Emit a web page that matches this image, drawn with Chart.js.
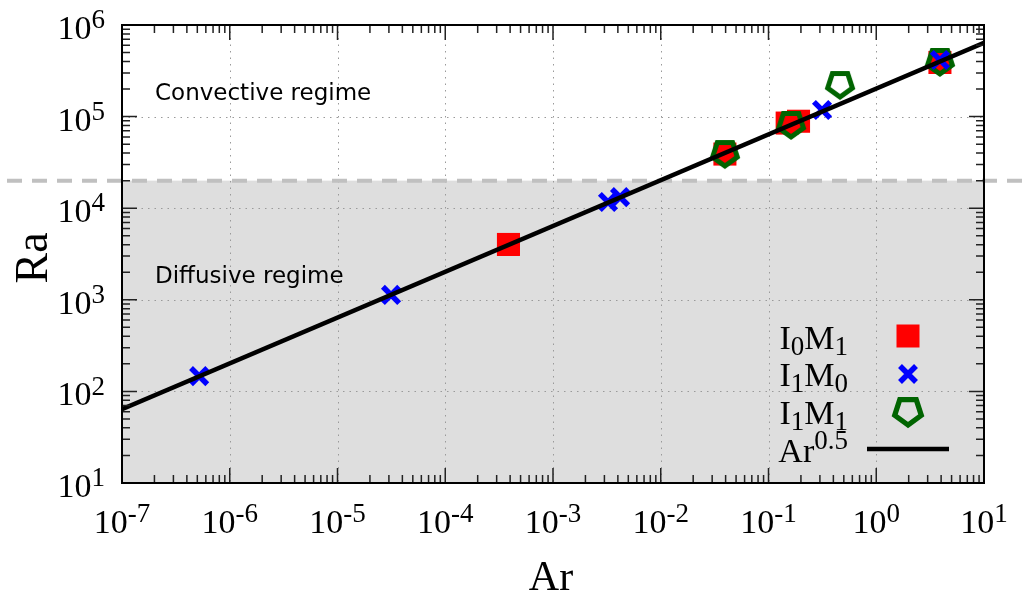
<!DOCTYPE html>
<html>
<head>
<meta charset="utf-8">
<script src="https://cdn.jsdelivr.net/npm/chart.js@4.4.1/dist/chart.umd.min.js"></script>
<style>
  html, body { margin: 0; padding: 0; background: #fff; }
  #wrap { width: 1031px; height: 596px; }
</style>
</head>
<body>
<div id="wrap"><canvas id="chart" width="1031" height="596"></canvas></div>
<script>
// ── Data ───────────────────────────────────────────────────────────

const i0m1Ar = [3.86e-4, 0.0394, 0.149, 0.19, 3.9];
const i0m1Ra = [4020, 3.9e4, 8.5e4, 8.9e4, 3.9e5];

const i1m0Ar = [5.2e-7, 3.14e-5, 3.24e-3, 4.19e-3, 0.314, 3.9];
const i1m0Ra = [147, 1130, 1.17e4, 1.32e4, 1.18e5, 4.15e5];

const i1m1Ar = [0.0394, 0.162, 0.461, 3.9];
const i1m1Ra = [3.9e4, 8.1e4, 2.21e5, 3.95e5];

// Ar^0.5 fit line, read at the two plot edges
const fitAr = [1e-7, 10];
const fitRa = [64, 6.4e5];

const xTicks = [1e-7, 1e-6, 1e-5, 1e-4, 1e-3, 1e-2, 1e-1, 1, 10];
const xTickLabels = ["10^{-7}", "10^{-6}", "10^{-5}", "10^{-4}", "10^{-3}", "10^{-2}", "10^{-1}", "10^{0}", "10^{1}"];
const yTicks = [10, 100, 1e3, 1e4, 1e5, 1e6];
const yTickLabels = ["10^{1}", "10^{2}", "10^{3}", "10^{4}", "10^{5}", "10^{6}"];

const regimeBoundary = 2e4;
const legendLabels = ["I_0M_1", "I_1M_0", "I_1M_1", "Ar^{0.5}"];

const SERIF = '"Liberation Serif", "Times New Roman", serif';
const SANS = '"DejaVu Sans", sans-serif';
const GREEN = "#006400";

function pts(xs, ys) {
  return xs.map(function (x, i) { return { x: x, y: ys[i] }; });
}

// ── Pentagon marker (flat top, vertex down) ───────────────────────

function makePentagon(R, lw) {
  const c = document.createElement("canvas");
  c.width = 40; c.height = 40;
  const g = c.getContext("2d");
  g.beginPath();
  for (let k = 0; k < 5; k++) {
    const a = Math.PI / 2 + k * 2 * Math.PI / 5;
    const px = 20 + R * Math.cos(a), py = 19 + R * Math.sin(a);
    if (k === 0) g.moveTo(px, py); else g.lineTo(px, py);
  }
  g.closePath();
  g.lineWidth = lw;
  g.lineJoin = "miter";
  g.strokeStyle = GREEN;
  g.stroke();
  return c;
}
const pentagon = makePentagon(13, 5);
const pentagonBig = makePentagon(14, 5.2);

// ── Rich text: "_x" subscript, "^{..}" superscript ────────────────

function parseRich(str) {
  const out = [];
  let i = 0, buf = "";
  while (i < str.length) {
    const ch = str[i];
    if (ch === "_" || ch === "^") {
      if (buf) { out.push({ t: buf, m: "n" }); buf = ""; }
      let t;
      if (str[i + 1] === "{") {
        const end = str.indexOf("}", i);
        t = str.slice(i + 2, end);
        i = end + 1;
      } else {
        t = str[i + 1];
        i += 2;
      }
      out.push({ t: t, m: ch === "_" ? "sub" : "sup" });
    } else {
      buf += ch; i++;
    }
  }
  if (buf) out.push({ t: buf, m: "n" });
  return out;
}

function drawRich(ctx, str, x, y, align, size, opts) {
  opts = opts || {};
  const small = Math.round(size * 0.8);
  const supRaise = opts.supRaise != null ? opts.supRaise : size * 0.32;
  const subDrop = size * 0.18;
  const segs = parseRich(str);
  let total = 0;
  segs.forEach(function (s) {
    ctx.font = (s.m === "n" ? size : small) + "px " + SERIF;
    s.w = ctx.measureText(s.t).width;
    total += s.w;
  });
  let cx = align === "right" ? x - total : align === "center" ? x - total / 2 : x;
  ctx.textAlign = "left";
  ctx.textBaseline = "alphabetic";
  segs.forEach(function (s) {
    ctx.font = (s.m === "n" ? size : small) + "px " + SERIF;
    const dy = s.m === "sup" ? -supRaise : s.m === "sub" ? subDrop : 0;
    ctx.fillText(s.t, cx, y + dy);
    cx += s.w;
  });
}

// ── Frame plugin: shading, grid, ticks, labels, legend ────────────

const framePlugin = {
  id: "frame",
  beforeDatasetsDraw: function (chart) {
    const ctx = chart.ctx;
    const a = chart.chartArea;
    const xs = chart.scales.x, ys = chart.scales.y;
    const yb = ys.getPixelForValue(regimeBoundary);

    ctx.save();
    // diffusive regime shading
    ctx.fillStyle = "#dedede";
    ctx.fillRect(a.left, yb, a.right - a.left, a.bottom - yb);

    // dotted grid
    ctx.strokeStyle = "#9a9a9a";
    ctx.lineWidth = 1;
    ctx.setLineDash([1.5, 5]);
    xTicks.slice(1, -1).forEach(function (v) {
      const px = Math.round(xs.getPixelForValue(v)) + 0.5;
      ctx.beginPath(); ctx.moveTo(px, a.top); ctx.lineTo(px, a.bottom); ctx.stroke();
    });
    yTicks.slice(1, -1).forEach(function (v) {
      const py = Math.round(ys.getPixelForValue(v)) + 0.5;
      ctx.beginPath(); ctx.moveTo(a.left, py); ctx.lineTo(a.right, py); ctx.stroke();
    });

    // regime boundary
    ctx.strokeStyle = "#c0c0c0";
    ctx.lineWidth = 4;
    ctx.setLineDash([15, 10]);
    ctx.beginPath(); ctx.moveTo(7, yb); ctx.lineTo(chart.width, yb); ctx.stroke();
    ctx.setLineDash([]);

    // regime labels
    ctx.fillStyle = "#000";
    ctx.font = "23px " + SANS;
    ctx.textAlign = "left";
    ctx.textBaseline = "alphabetic";
    ctx.fillText("Convective regime", 155, 100);
    ctx.fillText("Diffusive regime", 155, 283);
    ctx.restore();
  },
  afterDraw: function (chart) {
    const ctx = chart.ctx;
    const a = chart.chartArea;
    const xs = chart.scales.x, ys = chart.scales.y;

    ctx.save();
    // ticks (inward, mirrored)
    ctx.strokeStyle = "#222";
    ctx.lineWidth = 1.5;
    function tickX(v, len) {
      const px = xs.getPixelForValue(v);
      ctx.beginPath();
      ctx.moveTo(px, a.bottom); ctx.lineTo(px, a.bottom - len);
      ctx.moveTo(px, a.top); ctx.lineTo(px, a.top + len);
      ctx.stroke();
    }
    function tickY(v, len) {
      const py = ys.getPixelForValue(v);
      ctx.beginPath();
      ctx.moveTo(a.left, py); ctx.lineTo(a.left + len, py);
      ctx.moveTo(a.right, py); ctx.lineTo(a.right - len, py);
      ctx.stroke();
    }
    xTicks.forEach(function (v, i) {
      tickX(v, 15);
      if (i < xTicks.length - 1) for (let m = 2; m <= 9; m++) tickX(v * m, 8);
    });
    yTicks.forEach(function (v, i) {
      tickY(v, 15);
      if (i < yTicks.length - 1) for (let m = 2; m <= 9; m++) tickY(v * m, 8);
    });

    // border
    ctx.strokeStyle = "#000";
    ctx.lineWidth = 2;
    ctx.strokeRect(a.left, a.top, a.right - a.left, a.bottom - a.top);

    // tick labels
    ctx.fillStyle = "#000";
    xTicks.forEach(function (v, i) {
      drawRich(ctx, xTickLabels[i], xs.getPixelForValue(v), 533, "center", 34);
    });
    yTicks.forEach(function (v, i) {
      drawRich(ctx, yTickLabels[i], 105, ys.getPixelForValue(v) + 14, "right", 34);
    });

    // axis titles
    ctx.font = "42px " + SERIF;
    ctx.textAlign = "center";
    ctx.textBaseline = "alphabetic";
    ctx.fillText("Ar", 551, 590);
    ctx.save();
    ctx.translate(47, 258);
    ctx.rotate(-Math.PI / 2);
    ctx.font = "46px " + SERIF;
    ctx.fillText("Ra", 0, 0);
    ctx.restore();

    // legend
    const baselines = [349, 386, 424, 462];
    legendLabels.forEach(function (lab, i) {
      drawRich(ctx, lab, 848, baselines[i], "right", 34, { supRaise: i === 3 ? 13 : null });
    });
    const mx = 908;
    ctx.fillStyle = "#ff0000";
    ctx.fillRect(mx - 11.5, 336 - 11.5, 23, 23);
    ctx.strokeStyle = "#0000ff";
    ctx.lineWidth = 5.5;
    ctx.beginPath();
    ctx.moveTo(mx - 8, 374 - 8); ctx.lineTo(mx + 8, 374 + 8);
    ctx.moveTo(mx - 8, 374 + 8); ctx.lineTo(mx + 8, 374 - 8);
    ctx.stroke();
    ctx.drawImage(pentagonBig, mx - 20, 412 - 20);
    ctx.strokeStyle = "#000";
    ctx.lineWidth = 4.5;
    ctx.beginPath(); ctx.moveTo(867, 449); ctx.lineTo(949, 449); ctx.stroke();
    ctx.restore();
  }
};

// ── Chart ─────────────────────────────────────────────────────────

const ctx = document.getElementById("chart").getContext("2d");
new Chart(ctx, {
  type: "scatter",
  data: {
    datasets: [
      {
        label: "Ar^0.5",
        data: pts(fitAr, fitRa),
        showLine: true,
        borderColor: "#000",
        borderWidth: 4.5,
        pointRadius: 0,
        order: 0,
      },
      {
        label: "I1M0",
        data: pts(i1m0Ar, i1m0Ra),
        pointStyle: "crossRot",
        pointRadius: 11.5,
        borderColor: "#0000ff",
        backgroundColor: "#0000ff",
        pointBorderWidth: 5.5,
        order: 1,
      },
      {
        label: "I1M1",
        data: pts(i1m1Ar, i1m1Ra),
        pointStyle: pentagon,
        pointRadius: 15,
        order: 2,
      },
      {
        label: "I0M1",
        data: pts(i0m1Ar, i0m1Ra),
        pointStyle: "rect",
        pointRadius: 16.3,
        backgroundColor: "#ff0000",
        borderColor: "#ff0000",
        pointBorderWidth: 0,
        order: 3,
      },
    ],
  },
  options: {
    responsive: false,
    animation: false,
    events: [],
    layout: { padding: { left: 122, right: 47, top: 25, bottom: 113 } },
    scales: {
      x: {
        type: "logarithmic",
        min: 1e-7,
        max: 10,
        ticks: { display: false },
        grid: { display: false },
        border: { display: false },
        afterFit: function (s) { s.height = 0; },
      },
      y: {
        type: "logarithmic",
        min: 10,
        max: 1e6,
        ticks: { display: false },
        grid: { display: false },
        border: { display: false },
        afterFit: function (s) { s.width = 0; },
      },
    },
    plugins: {
      legend: { display: false },
      tooltip: { enabled: false },
    },
  },
  plugins: [framePlugin],
});
</script>
</body>
</html>
